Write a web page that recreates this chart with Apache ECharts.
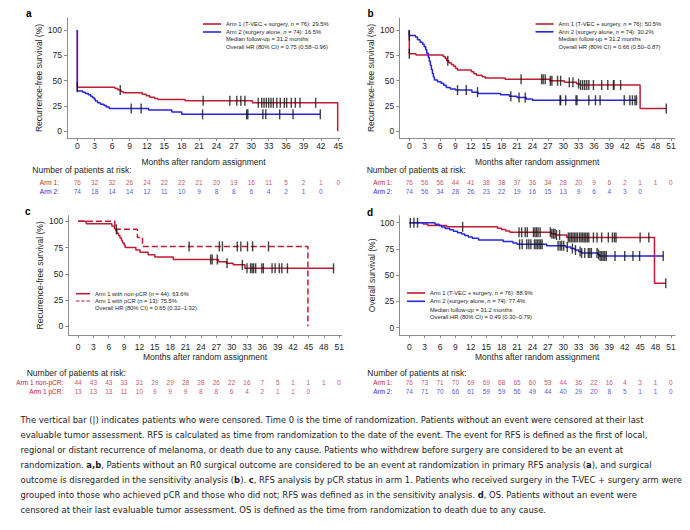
<!DOCTYPE html>
<html><head><meta charset="utf-8">
<script src="https://cdn.jsdelivr.net/npm/echarts@6/dist/echarts.min.js"></script>
<style>html,body{margin:0;padding:0;background:#fff}#c{width:690px;height:530px}</style>
</head><body><div id="c"></div>
<script>
// ---------- tick labels ----------
const ticksA = [0,3,6,9,12,15,18,21,24,27,30,33,36,39,42,45];
const ticks51 = [0,3,6,9,12,15,18,21,24,27,30,33,36,39,42,45,48,51];
const yTicks = [0,25,50,75,100];

// ---------- panel a (RFS primary) ----------
const aArm1 = [[0,100],[0,43.3],[6.5,42.2],[7.0,40.7],[7.5,39.2],[7.9,37.8],[11.2,36.4],[11.9,35.0],[12.5,33.5],[13.3,32.1],[13.9,31.1],[18.6,30.0],[30.2,28.0],[44.9,0]];
const aArm2 = [[0,100],[0,39.6],[0.9,38.5],[1.4,37.2],[1.9,35.8],[2.3,34.5],[2.6,33.1],[2.9,31.8],[3.1,29.7],[3.5,27.9],[4.0,26.5],[4.6,25.2],[5.0,23.9],[5.5,22.3],[12.3,20.8],[16.3,18.8],[18.0,16.5],[41.9,16.5]];
const aCens1 = [0,7.4,21.7,26.3,27.5,28.2,28.9,31.2,31.8,32.2,32.6,33.0,33.4,33.8,34.4,35.0,35.7,36.1,36.9,37.6,38.4,41.1];
const aCens2 = [9.3,11.0,21.6,29.2,29.4,32.0,32.5,34.9,37.2,41.9];
const aRisk1 = [76,32,32,26,24,22,22,21,20,19,16,11,5,2,1,0];
const aRisk2 = [74,18,14,14,12,11,10,9,8,8,6,4,2,1,0];

// ---------- panel b (RFS sensitivity) ----------
const bArm1 = [[0,100],[0,76.5],[1.3,75.3],[6.6,73.9],[7.0,72.0],[7.3,69.5],[7.7,67.6],[8.2,65.9],[8.6,64.3],[9.0,62.2],[9.4,60.4],[12.1,58.6],[12.6,56.8],[13.1,55.1],[14.2,53.7],[14.8,52.5],[18.7,51.2],[27.4,49.8],[30.2,48.2],[32.6,46.8],[33.2,45.5],[45.0,22.4],[50.1,22.4]];
const bArm2 = [[0,100],[0,94.5],[1.2,93.1],[1.6,90.4],[2.1,88.0],[2.6,86.0],[2.9,83.5],[3.2,80.5],[3.4,77.0],[3.7,73.0],[3.9,69.0],[4.1,65.0],[4.3,61.0],[4.5,57.0],[4.7,53.5],[4.9,50.5],[5.5,48.9],[6.2,47.4],[6.7,45.2],[7.2,43.0],[8.0,41.5],[9.0,40.5],[12.2,38.5],[13.4,37.2],[17.8,35.8],[19.5,34.5],[21.0,33.1],[22.8,31.7],[24.0,30.4],[44.3,30.4]];
const bCens1 = [0,7.5,21.8,25.8,26.1,26.5,27.5,27.8,28.9,29.5,31.2,31.9,33.0,33.4,33.8,34.2,34.6,35.0,35.9,37.5,38.7,39.8,39.9,41.2,50.1];
const bCens2 = [0,9.4,11.1,13.3,19.8,21.4,22.6,29.4,29.5,30.5,32.5,32.7,35.0,36.3,37.2,41.9,43.0,43.5,44.0,44.3];
const bRisk1 = [76,56,56,44,41,38,38,37,36,34,28,20,9,6,2,1,1,0];
const bRisk2 = [74,56,34,28,26,23,22,19,16,15,13,9,6,4,3,0];

// ---------- panel c (RFS by pCR, arm 1) ----------
const cNon = [[0,100],[1.6,97.7],[6.6,95.5],[7.1,93.2],[7.4,90.9],[7.6,88.6],[7.9,86.4],[8.2,84.1],[8.5,81.8],[8.7,79.5],[9.0,77.3],[9.2,75.0],[11.3,72.7],[12.1,70.5],[13.7,68.2],[15.0,65.9],[18.6,63.6],[27.4,61.4],[29.0,60.0],[30.3,58.5],[32.6,55.2],[49.9,55.2]];
const cPcr = [[0,100],[7.2,92.3],[11.6,84.6],[12.6,76.0],[44.9,0]];
const cCensNon = [25.9,26.2,27.2,29.1,32.1,33.0,33.7,34.0,34.3,34.7,35.9,36.2,37.9,38.5,39.3,39.8,40.9,49.9];
const cCensPcr = [7.5,21.7,27.6,28.2,31.1,31.8,33.1,34.1,37.2];
const cRiskNon = [44,43,43,33,31,29,29,28,28,26,22,16,7,5,1,1,1,0];
const cRiskPcr = [13,13,13,11,10,9,9,9,8,8,6,4,2,1,1,0];

// ---------- panel d (OS) ----------
const dArm1 = [[0,100],[2.7,98.7],[3.6,97.4],[7.3,96.1],[17.2,94.8],[18.0,93.5],[18.8,92.2],[19.6,90.9],[27.7,89.6],[28.5,88.3],[30.7,86.0],[47.8,42.3],[50.0,42.3]];
const dArm2 = [[0,100],[5.0,98.6],[5.8,97.3],[6.3,95.9],[7.0,94.6],[7.9,93.2],[8.6,91.9],[9.4,90.5],[10.2,89.2],[10.8,87.8],[11.5,86.5],[12.3,85.1],[13.5,83.6],[18.3,82.2],[20.2,80.8],[21.0,79.4],[26.8,78.1],[30.5,76.8],[31.5,75.4],[32.3,74.0],[33.0,72.6],[33.6,71.2],[36.8,69.8],[37.1,68.3],[49.5,68.3]];
const dCens1 = [0.2,0.9,1.6,10.4,21.4,21.9,22.6,23.0,24.2,24.5,24.8,25.1,25.5,27.5,27.8,28.1,28.4,28.7,29.3,31.0,31.3,31.6,31.9,32.2,32.5,32.8,33.2,33.5,33.8,34.1,34.4,34.7,35.0,35.9,36.6,37.5,38.8,39.6,40.0,40.3,45.0,46.7,50.0];
const dCens2 = [21.5,22.0,22.9,23.3,23.7,24.4,24.7,25.0,25.3,25.6,25.9,29.0,29.4,29.7,30.1,30.8,31.8,32.4,33.3,33.6,34.2,34.9,35.2,35.5,36.6,36.9,37.2,37.5,37.8,38.1,38.4,40.1,42.0,43.6,44.9,49.5];
const dRisk1 = [76,73,71,70,69,69,68,65,60,53,44,36,22,16,4,3,1,0];
const dRisk2 = [74,71,70,66,61,59,59,56,49,44,40,29,20,8,5,1,1,0];

// ---------- caption ----------
const captionLines = [
 "The vertical bar (|) indicates patients who were censored. Time 0 is the time of randomization. Patients without an event were censored at their last",
 "evaluable tumor assessment. RFS is calculated as time from randomization to the date of the event. The event for RFS is defined as the first of local,",
 "regional or distant recurrence of melanoma, or death due to any cause. Patients who withdrew before surgery are considered to be an event at",
 "randomization. {b|a,b}, Patients without an R0 surgical outcome are considered to be an event at randomization in primary RFS analysis ({b|a}), and surgical",
 "outcome is disregarded in the sensitivity analysis ({b|b}). {b|c}, RFS analysis by pCR status in arm 1. Patients who received surgery in the T-VEC + surgery arm were",
 "grouped into those who achieved pCR and those who did not; RFS was defined as in the sensitivity analysis. {b|d}, OS. Patients without an event were",
 "censored at their last evaluable tumor assessment. OS is defined as the time from randomization to death due to any cause."
];

// ================= build =================
const RED = '#c01c33', BLUE = '#2626e0', AX = '#8c8c8c', TXT = '#1e1e1e', CENS = '#111';
const FONT = '"Liberation Sans", Arial, Helvetica, sans-serif';
const DASH_ICON = 'path://M0,0h6v2h-6z M9,0h6v2h-6z M18,0h6v2h-6z';
const grids = [], xAxes = [], yAxes = [], series = [], legends = [], graphics = [];

function stepAt(curve, t) { let v = curve[0][1]; for (const p of curve) { if (p[0] <= t) v = p[1]; } return v; }
function txt(x, y, text, size, opts) {
  graphics.push(Object.assign({ type: 'text', x: x, y: y, silent: true,
    style: Object.assign({ text: text, fontSize: size, fontFamily: FONT, fill: TXT, align: 'left', verticalAlign: 'middle' }, opts || {}) }));
}

function addPanel(P) {
  const gi = grids.length;
  grids.push({ left: P.left, top: P.top, width: P.width, height: P.height });
  xAxes.push({ gridIndex: gi, type: 'value', min: P.xmin, max: P.xmax,
    name: 'Months after random assignment', nameLocation: 'middle', nameGap: P.xNameGap,
    nameTextStyle: { fontSize: 8.5, color: TXT, fontFamily: FONT },
    axisLine: { show: true, onZero: false, lineStyle: { color: AX, width: 1 } },
    axisTick: { show: true, customValues: P.ticks, length: 3, lineStyle: { color: AX } },
    axisLabel: { customValues: P.ticks, margin: P.xLabelMargin, fontSize: 8.5, color: TXT, fontFamily: FONT },
    splitLine: { show: false } });
  yAxes.push({ gridIndex: gi, type: 'value', min: P.ymin, max: P.ymax,
    name: P.yName, nameLocation: 'middle', nameGap: P.yNameGap,
    nameTextStyle: { fontSize: 8.5, color: TXT, fontFamily: FONT },
    axisLine: { show: true, onZero: false, lineStyle: { color: AX, width: 1 } },
    axisTick: { show: true, customValues: yTicks, length: 3, lineStyle: { color: AX } },
    axisLabel: { customValues: yTicks, margin: 5, fontSize: 8.5, color: TXT, fontFamily: FONT },
    splitLine: { show: false } });
  P.curves.forEach(c => {
    series.push({ type: 'line', name: c.name, xAxisIndex: gi, yAxisIndex: gi, data: c.data, step: 'end',
      symbol: 'none', showSymbol: false, animation: false, silent: true, z: 2,
      lineStyle: { color: c.color, width: 1.5, type: c.dash || 'solid' }, itemStyle: { color: c.color } });
    series.push({ type: 'scatter', name: c.name + ' censored', xAxisIndex: gi, yAxisIndex: gi,
      data: c.cens.map(t => [t, stepAt(c.data, t)]), symbol: 'rect', symbolSize: [1.4, 10],
      itemStyle: { color: CENS }, animation: false, silent: true, z: 3 });
  });
  legends.push({ left: P.lg.left, top: P.lg.top, padding: 0, orient: 'vertical', itemWidth: P.lg.w, itemHeight: 1.6,
    itemGap: P.lg.gap, selectedMode: false,
    data: P.curves.map(c => ({ name: c.name, icon: c.dash ? DASH_ICON : 'rect' })),
    textStyle: { fontSize: 5.8, lineHeight: 7, color: TXT, fontFamily: FONT,
      rich: { i: { fontStyle: 'italic', fontSize: 5.8, lineHeight: 7, color: TXT, fontFamily: FONT } } },
    formatter: s => s.replace('n = ', '{i|n} = ') });
  P.lg.extra.forEach((e, k) => txt(P.lg.left + P.lg.w + 5, P.lg.extraY[k], e, 5.8));
  // risk table
  const ri = grids.length;
  grids.push({ left: P.left, top: P.rTop, width: P.width, height: P.rH });
  xAxes.push({ gridIndex: ri, type: 'value', min: P.xmin, max: P.xmax, show: false });
  const rowColors = P.risk.map(r => r.color);
  yAxes.push({ gridIndex: ri, type: 'category', inverse: true, data: P.risk.map(r => r.label),
    axisLine: { show: false }, axisTick: { show: false }, splitLine: { show: false },
    axisLabel: { interval: 0, margin: P.rMargin, fontSize: 6.5, fontFamily: FONT, color: (v, i) => rowColors[i] } });
  P.risk.forEach((r, row) => {
    series.push({ type: 'scatter', name: r.label + ' risk', xAxisIndex: ri, yAxisIndex: ri,
      data: r.vals.map((n, i) => [P.ticks[i], row, n]), symbolSize: 0, animation: false, silent: true,
      itemStyle: { color: 'rgba(0,0,0,0)' },
      label: { show: true, position: 'inside', formatter: p => String(p.value[2]), color: r.color, fontSize: 6.5, fontFamily: FONT } });
  });
  txt(P.numX, P.numY, 'Number of patients at risk:', 8.5);
  txt(P.letterX, P.letterY, P.letter, 10, { fontWeight: 'bold', fill: '#000' });
}

addPanel({ letter: 'a', letterX: 26, letterY: 13.5, left: 67, top: 18, width: 273, height: 120,
  xmin: -1.78, xmax: 45.3, ymin: -6.9, ymax: 111.9, ticks: ticksA, xLabelMargin: 3, xNameGap: 19.5,
  yName: 'Recurrence-free survival (%)', yNameGap: 24,
  curves: [
    { name: 'Arm 1 (T-VEC + surgery, n = 76): 29.5%', data: aArm1, cens: aCens1, color: RED },
    { name: 'Arm 2 (surgery alone, n = 74): 16.5%', data: aArm2, cens: aCens2, color: BLUE }],
  lg: { left: 203, top: 20.5, w: 18, gap: 1.0, extra: ['Median follow-up = 31.2 months', 'Overall HR (80% CI) = 0.75 (0.58\u20130.96)'], extraY: [39.4, 46.9] },
  rTop: 178, rH: 17.4, rMargin: 8, numX: 32.3, numY: 170,
  risk: [{ label: 'Arm 1:', vals: aRisk1, color: RED }, { label: 'Arm 2:', vals: aRisk2, color: BLUE }] });

addPanel({ letter: 'b', letterX: 367.5, letterY: 13.5, left: 399.3, top: 18, width: 275.7, height: 120,
  xmin: -1.95, xmax: 51.8, ymin: -6.9, ymax: 111.9, ticks: ticks51, xLabelMargin: 3, xNameGap: 19.5,
  yName: 'Recurrence-free survival (%)', yNameGap: 23.5,
  curves: [
    { name: 'Arm 1 (T-VEC + surgery, n = 76): 50.5%', data: bArm1, cens: bCens1, color: RED },
    { name: 'Arm 2 (surgery alone, n = 74): 30.2%', data: bArm2, cens: bCens2, color: BLUE }],
  lg: { left: 535.5, top: 20.5, w: 18, gap: 0.8, extra: ['Median follow-up = 31.2 months', 'Overall HR (80% CI) = 0.66 (0.50\u20130.87)'], extraY: [39.3, 46.7] },
  rTop: 178, rH: 17.4, rMargin: 7, numX: 366.7, numY: 170,
  risk: [{ label: 'Arm 1:', vals: bRisk1, color: RED }, { label: 'Arm 2:', vals: bRisk2, color: BLUE }] });

addPanel({ letter: 'c', letterX: 25, letterY: 211.7, left: 68.3, top: 215.7, width: 273.4, height: 119.3,
  xmin: -1.9, xmax: 51.5, ymin: -8.3, ymax: 105.3, ticks: ticks51, xLabelMargin: 7, xNameGap: 17,
  yName: 'Recurrence-free survival (%)', yNameGap: 24,
  curves: [
    { name: 'Arm 1 with non-pCR (n = 44): 63.6%', data: cNon, cens: cCensNon, color: RED },
    { name: 'Arm 1 with pCR (n = 13): 75.5%', data: cPcr, cens: cCensPcr, color: RED, dash: [6, 3] }],
  lg: { left: 76, top: 290.2, w: 14, gap: 0.3, extra: ['Overall HR (80% CI) = 0.65 (0.32\u20131.32)'], extraY: [308.3] },
  rTop: 378.4, rH: 17.2, rMargin: 5, numX: 26.7, numY: 373.3,
  risk: [{ label: 'Arm 1 non-pCR:', vals: cRiskNon, color: RED }, { label: 'Arm 1 pCR:', vals: cRiskPcr, color: RED }] });

addPanel({ letter: 'd', letterX: 367, letterY: 212.3, left: 399.3, top: 215.7, width: 275.7, height: 119.3,
  xmin: -1.95, xmax: 51.8, ymin: -7, ymax: 106.7, ticks: ticks51, xLabelMargin: 7, xNameGap: 17,
  yName: 'Overall survival (%)', yNameGap: 22.5,
  curves: [
    { name: 'Arm 1 (T-VEC + surgery, n = 76): 88.9%', data: dArm1, cens: dCens1, color: RED },
    { name: 'Arm 2 (surgery alone, n = 74): 77.4%', data: dArm2, cens: dCens2, color: BLUE }],
  lg: { left: 407, top: 289.5, w: 18, gap: 1.3, extra: ['Median follow-up = 31.2 months', 'Overall HR (80% CI) = 0.49 (0.30\u20130.79)'], extraY: [309.5, 317] },
  rTop: 378.4, rH: 17.2, rMargin: 7, numX: 367.3, numY: 373.3,
  risk: [{ label: 'Arm 1:', vals: dRisk1, color: RED }, { label: 'Arm 2:', vals: dRisk2, color: BLUE }] });

// caption: fit font size so that the lines span about the same width as in the reference
const CAPF = '"Liberation Sans Narrow", "DejaVu Sans Condensed", "Arial Narrow", "Liberation Sans", sans-serif';
const mctx = document.createElement('canvas').getContext('2d');
mctx.font = '20px ' + CAPF;
const capSize = Math.min(12, 20 * 624 / mctx.measureText(captionLines[0]).width);
captionLines.forEach((ln, i) => {
  graphics.push({ type: 'text', x: 20.5, y: 419.5 + i * 15.05, silent: true,
    style: { text: ln, fontSize: capSize, fontFamily: CAPF, fill: '#1a1a1a', align: 'left', verticalAlign: 'middle',
      rich: { b: { fontWeight: 'bold', fontSize: capSize, fontFamily: CAPF, fill: '#1a1a1a' } } } });
});

const chart = echarts.init(document.getElementById('c'), null, { renderer: 'svg' });
chart.setOption({ animation: false, backgroundColor: '#fff', textStyle: { fontFamily: FONT },
  grid: grids, xAxis: xAxes, yAxis: yAxes, series: series, legend: legends, graphic: graphics, tooltip: { show: false } });
</script></body></html>
